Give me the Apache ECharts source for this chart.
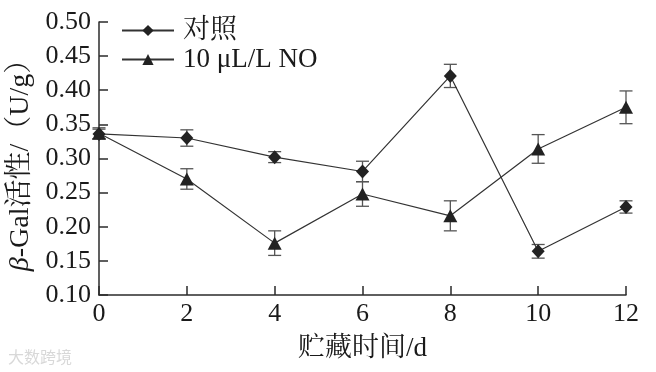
<!DOCTYPE html>
<html>
<head>
<meta charset="utf-8">
<script src="https://cdn.jsdelivr.net/npm/echarts@6/dist/echarts.min.js"></script>
<style>html,body{margin:0;padding:0;background:#fff}#c{width:656px;height:372px}</style>
</head>
<body>
<div id="c"></div>
<script>
var days = [0, 2, 4, 6, 8, 10, 12];
var ctrlName = '对照';
var ctrlValues = [0.336, 0.330, 0.302, 0.281, 0.421, 0.164, 0.229];
var ctrlErrors = [0.007, 0.012, 0.008, 0.015, 0.017, 0.010, 0.009];
var noName = '10 μL/L NO';
var noValues = [0.337, 0.270, 0.176, 0.248, 0.216, 0.314, 0.375];
var noErrors = [0.008, 0.015, 0.018, 0.018, 0.022, 0.021, 0.024];
var yTicks = ['0.10','0.15','0.20','0.25','0.30','0.35','0.40','0.45','0.50'];

var serif = '"Liberation Serif","Times New Roman","Noto Serif CJK SC","Noto Sans CJK SC",serif';
var AX = '#2b2b2b';

function errSeries(vals, errs) {
  var data = vals.map(function (v, i) { return [days[i], v, errs[i]]; });
  return {
    type: 'custom',
    silent: true,
    z: 1,
    data: data,
    renderItem: function (params, api) {
      var x = api.value(0), v = api.value(1), e = api.value(2);
      var top = api.coord([x, v + e]);
      var bot = api.coord([x, v - e]);
      var w = 6.5;
      var st = { stroke: '#555', lineWidth: 1.3 };
      return { type: 'group', children: [
        { type: 'line', shape: { x1: top[0], y1: top[1], x2: bot[0], y2: bot[1] }, style: st },
        { type: 'line', shape: { x1: top[0] - w, y1: top[1], x2: top[0] + w, y2: top[1] }, style: st },
        { type: 'line', shape: { x1: bot[0] - w, y1: bot[1], x2: bot[0] + w, y2: bot[1] }, style: st }
      ]};
    }
  };
}

var chart = echarts.init(document.getElementById('c'), null, { renderer: 'canvas' });
chart.setOption({
  animation: false,
  backgroundColor: '#fff',
  textStyle: { fontFamily: serif },
  grid: { left: 99, right: 30, top: 22, bottom: 77, containLabel: false, outerBoundsMode: 'none' },
  legend: {
    orient: 'vertical',
    left: 116, top: 12,
    itemWidth: 52, itemHeight: 14, itemGap: 2,
    textStyle: { fontFamily: serif, fontSize: 27, color: '#1a1a1a', padding: [0, 0, 0, 4] },
    data: [ctrlName, noName]
  },
  xAxis: {
    type: 'value', min: 0, max: 12, interval: 2,
    name: '贮藏时间/d', nameLocation: 'middle', nameGap: 40,
    nameTextStyle: { fontFamily: serif, fontSize: 27, color: '#1a1a1a' },
    axisLine: { lineStyle: { color: AX, width: 1.5 } },
    axisTick: { inside: true, length: 9, lineStyle: { color: AX, width: 1.5 } },
    axisLabel: { fontFamily: serif, fontSize: 26, color: '#1a1a1a', margin: 6 },
    splitLine: { show: false }
  },
  yAxis: {
    type: 'value', min: 0.10, max: 0.50, interval: 0.05,
    name: '{i|β}-Gal活性/（U/g）', nameLocation: 'middle', nameGap: 64, nameRotate: 90,
    nameTextStyle: { fontFamily: serif, fontSize: 28, color: '#1a1a1a',
      rich: { i: { fontFamily: serif, fontSize: 28, fontStyle: 'italic', color: '#1a1a1a' } } },
    axisLine: { show: true, lineStyle: { color: AX, width: 1.5 } },
    axisTick: { show: true, inside: true, length: 9, lineStyle: { color: AX, width: 1.5 } },
    axisLabel: { fontFamily: serif, fontSize: 26, color: '#1a1a1a', margin: 8,
      formatter: function (v) { var s = v.toFixed(2); return yTicks.indexOf(s) >= 0 ? s : ''; } },
    splitLine: { show: false }
  },
  graphic: [{
    type: 'text', left: 8, top: 349, silent: true,
    style: { text: '大数跨境', fontSize: 16, fill: '#d8d8d8', fontFamily: '"Noto Sans CJK SC",sans-serif' }
  }],
  series: [
    errSeries(ctrlValues, ctrlErrors),
    errSeries(noValues, noErrors),
    {
      name: ctrlName, type: 'line', z: 3,
      data: ctrlValues.map(function (v, i) { return [days[i], v]; }),
      symbol: 'diamond', symbolSize: [13, 14],
      lineStyle: { color: '#333', width: 1.2 },
      itemStyle: { color: '#222', borderWidth: 0 }
    },
    {
      name: noName, type: 'line', z: 3,
      data: noValues.map(function (v, i) { return [days[i], v]; }),
      symbol: 'triangle', symbolSize: [14, 13],
      lineStyle: { color: '#333', width: 1.2 },
      itemStyle: { color: '#222', borderWidth: 0 }
    }
  ]
});
</script>
</body>
</html>
